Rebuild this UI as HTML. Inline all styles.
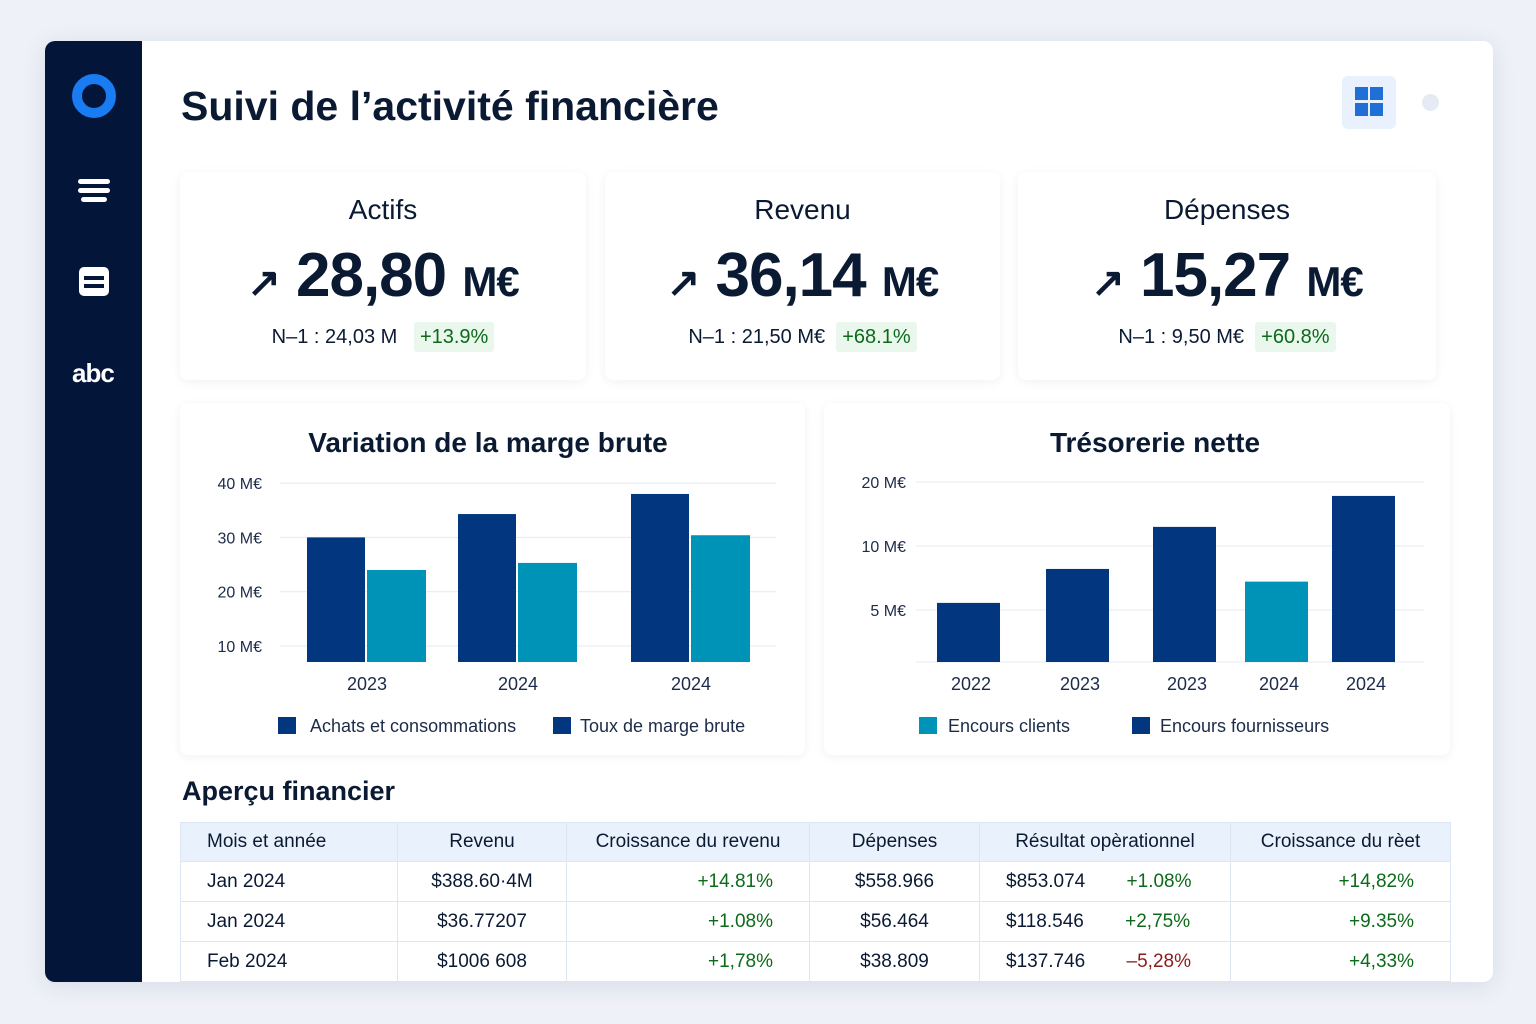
<!DOCTYPE html>
<html><head><meta charset="utf-8"><style>
*{margin:0;padding:0;box-sizing:border-box}
body{width:1536px;height:1024px;background:#eef1f7;font-family:"Liberation Sans",sans-serif;color:#0b1a33;position:relative;overflow:hidden}
.abs{position:absolute}
.card{position:absolute;background:#fff;border-radius:8px;box-shadow:0 2px 10px rgba(20,40,90,0.06)}
.kt{position:absolute;left:0;right:0;text-align:center}
.pill{background:#eaf7ec;color:#0c6a1a;padding:4px 6px;border-radius:3px}
table{border-collapse:collapse;font-size:19px}
td,th{border:1px solid #dde6f2;height:40px;padding:0 26px;font-weight:normal}
td.rt{padding-right:36px}
th{background:#e9f2fc;height:39px}
.g{color:#0c6a1a}.r{color:#8a1c1c}
</style></head><body>
<div class="abs" style="left:45px;top:41px;width:1448px;height:941px;background:#fff;border-radius:10px;overflow:hidden;box-shadow:0 4px 24px rgba(20,40,90,.1)">
 <div class="abs" style="left:0;top:0;width:97px;height:941px;background:#03163a"></div>
</div>
<div class="abs" style="left:72px;top:74px;width:44px;height:44px;border-radius:50%;border:10px solid #1a7cf2"></div>
<div class="abs" style="left:78px;top:179px;width:32px">
 <div style="height:5px;background:#fff;border-radius:3px;margin-bottom:4px"></div>
 <div style="height:5px;background:#fff;border-radius:3px;margin-bottom:4px"></div>
 <div style="height:5px;background:#fff;border-radius:3px;width:26px;margin-left:3px"></div>
</div>
<div class="abs" style="left:79px;top:267px;width:30px;height:29px;background:#fff;border-radius:5px">
 <div style="position:absolute;left:5px;top:9px;width:20px;height:4px;background:#03163a"></div>
 <div style="position:absolute;left:5px;top:17px;width:20px;height:4px;background:#03163a"></div>
</div>
<div class="abs" style="left:72px;top:358px;color:#fff;font-size:26px;font-weight:bold;letter-spacing:-1px">abc</div>
<div class="abs" style="left:181px;top:83px;font-size:41px;font-weight:bold;color:#0b1a33">Suivi de l’activité financière</div>
<div class="abs" style="left:1342px;top:76px;width:54px;height:53px;background:#e8f1fd;border-radius:6px">
 <div style="position:absolute;left:13px;top:11px;width:13px;height:13px;background:#1f6fd6"></div>
 <div style="position:absolute;left:28px;top:11px;width:13px;height:13px;background:#1f6fd6"></div>
 <div style="position:absolute;left:13px;top:27px;width:13px;height:13px;background:#1f6fd6"></div>
 <div style="position:absolute;left:28px;top:27px;width:13px;height:13px;background:#1f6fd6"></div>
</div>
<div class="abs" style="left:1422px;top:94px;width:17px;height:17px;border-radius:50%;background:#e6eaf3"></div>

<div class="card" style="left:180px;top:172px;width:406px;height:208px">
 <div class="kt" style="top:22px;font-size:28px">Actifs</div>
 <div class="kt" style="top:68px;font-size:62px;font-weight:bold;letter-spacing:-1px"><span style="font-size:40px">↗</span> 28,80 <span style="font-size:42px">M€</span></div>
 <div class="kt" style="top:154px;font-size:20px">N–1 : 24,03 M &nbsp; <span class="pill">+13.9%</span></div>
</div>
<div class="card" style="left:605px;top:172px;width:395px;height:208px">
 <div class="kt" style="top:22px;font-size:28px">Revenu</div>
 <div class="kt" style="top:68px;font-size:62px;font-weight:bold;letter-spacing:-1px"><span style="font-size:40px">↗</span> 36,14 <span style="font-size:42px">M€</span></div>
 <div class="kt" style="top:154px;font-size:20px">N–1 : 21,50 M€ &nbsp;<span class="pill">+68.1%</span></div>
</div>
<div class="card" style="left:1018px;top:172px;width:418px;height:208px">
 <div class="kt" style="top:22px;font-size:28px">Dépenses</div>
 <div class="kt" style="top:68px;font-size:62px;font-weight:bold;letter-spacing:-1px"><span style="font-size:40px">↗</span> 15,27 <span style="font-size:42px">M€</span></div>
 <div class="kt" style="top:154px;font-size:20px">N–1 : 9,50 M€ &nbsp;<span class="pill">+60.8%</span></div>
</div>

<div class="card" style="left:180px;top:403px;width:625px;height:352px"></div>
<div class="card" style="left:824px;top:403px;width:626px;height:352px"></div>
<svg class="abs" style="left:0;top:0" width="1536" height="1024" font-family="Liberation Sans, sans-serif">
 <g id="c1"></g><g id="c2"></g>
</svg>

<div class="abs" style="left:182px;top:776px;font-size:27px;font-weight:bold">Aperçu financier</div>
<table class="abs" style="left:180px;top:822px;width:1271px">
<tr><th style="width:217px;text-align:left">Mois et année</th><th style="width:169px">Revenu</th><th style="width:243px">Croissance du revenu</th><th style="width:170px">Dépenses</th><th style="width:251px">Résultat opèrationnel</th><th>Croissance du rèet</th></tr>
<tr><td>Jan 2024</td><td style="text-align:center">$388.60·4M</td><td style="text-align:right" class="g rt">+14.81%</td><td style="text-align:center">$558.966</td><td>$853.074 <span class="g" style="margin-left:36px">+1.08%</span></td><td style="text-align:right" class="g rt">+14,82%</td></tr>
<tr><td>Jan 2024</td><td style="text-align:center">$36.77207</td><td style="text-align:right" class="g rt">+1.08%</td><td style="text-align:center">$56.464</td><td>$118.546 <span class="g" style="margin-left:36px">+2,75%</span></td><td style="text-align:right" class="g rt">+9.35%</td></tr>
<tr><td>Feb 2024</td><td style="text-align:center">$1006 608</td><td style="text-align:right" class="g rt">+1,78%</td><td style="text-align:center">$38.809</td><td>$137.746 <span class="r" style="margin-left:36px">–5,28%</span></td><td style="text-align:right" class="g rt">+4,33%</td></tr>
</table>

<script>
const c1Categories=["2023","2024","2024"];
const c1Achats=[30,34.3,38];
const c1Taux=[24,25.3,30.4];
const c1Ticks=[10,20,30,40];
const c2Categories=["2022","2023","2023","2024","2024"];
const c2Values=[5.4,7.8,12.3,6.8,17.2];
const c2Series=["f","f","f","c","f"];
const c2Ticks=[5,10,20];
const NS="http://www.w3.org/2000/svg";
function mk(g,tag,a,txt){const e=document.createElementNS(NS,tag);for(const k in a)e.setAttribute(k,a[k]);if(txt!=null)e.textContent=txt;g.appendChild(e);return e;}
const dark="#02367f",teal="#0093b8";
const g1=document.getElementById('c1');
mk(g1,'text',{x:488,y:452,'text-anchor':'middle','font-size':28,'font-weight':'bold',fill:'#0b1a33'},'Variation de la marge brute');
const y1=v=>646-(v-10)*5.43;const base1=662;
c1Ticks.forEach(t=>{const l=mk(g1,'line',{x1:280,x2:776,y1:y1(t),y2:y1(t),stroke:'#e3e9f3'});

const tx=mk(g1,'text',{x:262,y:y1(t)+6,'text-anchor':'end','font-size':16,fill:'#1c2b4a'},t+' M€');
});
const c1x=[366,517,690];
c1Categories.forEach((c,i)=>{
 const a=mk(g1,'rect',{x:c1x[i]-59,y:y1(c1Achats[i]),width:58,height:base1-y1(c1Achats[i]),fill:dark});
 
 const b=mk(g1,'rect',{x:c1x[i]+1,y:y1(c1Taux[i]),width:59,height:base1-y1(c1Taux[i]),fill:teal});
 
 const t=mk(g1,'text',{x:c1x[i]+1,y:690,'text-anchor':'middle','font-size':18,fill:'#1c2b4a'},c);
 });
let e;
e=mk(g1,'rect',{x:278,y:717,width:18,height:17,fill:dark});
e=mk(g1,'text',{x:310,y:732,'font-size':18,fill:'#1c2b4a'},'Achats et consommations');
e=mk(g1,'rect',{x:553,y:717,width:18,height:17,fill:dark});
e=mk(g1,'text',{x:580,y:732,'font-size':18,fill:'#1c2b4a'},'Toux de marge brute');
const g2=document.getElementById('c2');
mk(g2,'text',{x:1155,y:452,'text-anchor':'middle','font-size':28,'font-weight':'bold',fill:'#0b1a33'},'Trésorerie nette');
const y2=v=>546-Math.log2(v/10)*64;const base2=662;
c2Ticks.forEach(t=>{const l=mk(g2,'line',{x1:916,x2:1424,y1:y2(t),y2:y2(t),stroke:'#e3e9f3'});

const tx=mk(g2,'text',{x:906,y:y2(t)+6,'text-anchor':'end','font-size':16,fill:'#1c2b4a'},t+' M€');
});
mk(g2,'line',{x1:916,x2:1424,y1:662,y2:662,stroke:'#e3e9f3'});
const c2x=[968,1077,1184,1276,1363];
c2Categories.forEach((c,i)=>{
 const v=c2Values[i];
 const r=mk(g2,'rect',{x:c2x[i]-31,y:y2(v),width:63,height:base2-y2(v),fill:c2Series[i]==='c'?teal:dark});
 
 const t=mk(g2,'text',{x:c2x[i]+3,y:690,'text-anchor':'middle','font-size':18,fill:'#1c2b4a'},c);
 });
e=mk(g2,'rect',{x:919,y:717,width:18,height:17,fill:teal});
e=mk(g2,'text',{x:948,y:732,'font-size':18,fill:'#1c2b4a'},'Encours clients');
e=mk(g2,'rect',{x:1132,y:717,width:18,height:17,fill:dark});
e=mk(g2,'text',{x:1160,y:732,'font-size':18,fill:'#1c2b4a'},'Encours fournisseurs');
</script>
</body></html>
